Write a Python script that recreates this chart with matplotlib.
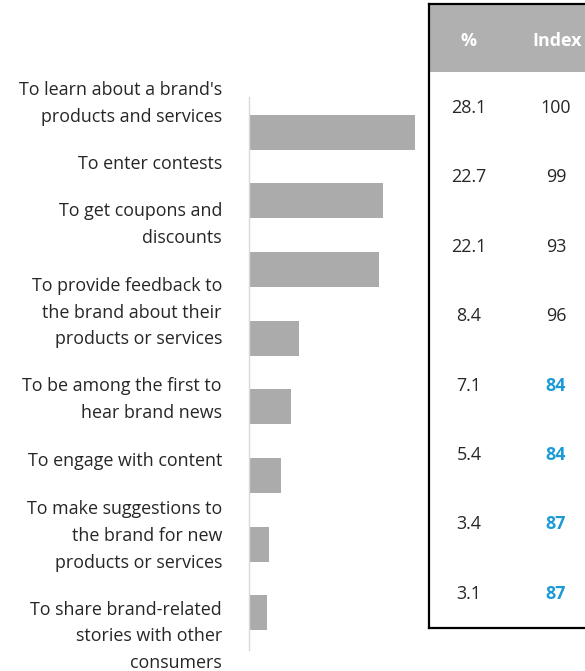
import matplotlib.pyplot as plt
from matplotlib.patches import Rectangle

plt.rcParams['font.family'] = ['Open Sans', 'DejaVu Sans']

reasons = [
    "To learn about a brand's\nproducts and services",
    "To enter contests",
    "To get coupons and\ndiscounts",
    "To provide feedback to\nthe brand about their\nproducts or services",
    "To be among the first to\nhear brand news",
    "To engage with content",
    "To make suggestions to\nthe brand for new\nproducts or services",
    "To share brand-related\nstories with other\nconsumers",
]
pct = [28.1, 22.7, 22.1, 8.4, 7.1, 5.4, 3.4, 3.1]
index = [100, 99, 93, 96, 84, 84, 87, 87]
highlight = [False, False, False, False, True, True, True, True]

# label block centres, in category units (labels sit a bit above their bars)
label_y = [-0.42, 0.47, 1.35, 2.63, 3.89, 4.79, 5.88, 7.34]

W, H = 585, 671
fig = plt.figure(figsize=(W / 100, H / 100), dpi=100)

bar_color = '#ababab'
text_color = '#262626'
blue = '#1a9ad6'
fs = 12.9

# bar panel
ax = fig.add_axes([249 / W, (H - 650) / H, 180 / W, 553 / H])
ypos = list(range(len(pct)))
ax.barh(ypos, pct, height=0.51, color=bar_color)
ax.set_xlim(0, 180 / 5.9)
ax.set_ylim(7.54, -0.51)
for s in ['top', 'right', 'bottom']:
    ax.spines[s].set_visible(False)
ax.spines['left'].set_color('#d9d9d9')
ax.spines['left'].set_linewidth(1)
ax.set_xticks([])
ax.set_yticks([])
for lab, y in zip(reasons, label_y):
    ax.annotate(lab, xy=(0, y), xytext=(-27, 0), textcoords='offset pixels',
                ha='right', va='center', fontsize=fs, color=text_color,
                linespacing=1.62)

# table panel, coordinates in pixels from its top-left corner
tb = fig.add_axes([429 / W, (H - 628) / H, 160 / W, 624 / H])
tb.set_xlim(0, 160)
tb.set_ylim(624, 0)
tb.axis('off')
tb.add_patch(Rectangle((0, 0), 160, 68, color='#b0b0b0', lw=0))
for xs, ys in [([0, 0], [0, 624]), ([0, 160], [624, 624]), ([0, 160], [0, 0])]:
    tb.plot(xs, ys, color='black', lw=1.6, solid_capstyle='projecting',
            clip_on=False)
tb.text(40, 37, '%', ha='center', va='center', color='white',
        fontsize=fs, fontweight='bold')
tb.text(128, 37, 'Index', ha='center', va='center', color='white',
        fontsize=fs, fontweight='bold')
for i, (p, idx, hl) in enumerate(zip(pct, index, highlight)):
    y = 104 + 69.4 * i
    tb.text(40, y, f'{p:.1f}', ha='center', va='center', color=text_color,
            fontsize=fs)
    tb.text(127, y, f'{idx}', ha='center', va='center',
            color=blue if hl else text_color, fontsize=fs,
            fontweight='bold' if hl else 'normal')

fig.savefig('out.png', dpi=100)
